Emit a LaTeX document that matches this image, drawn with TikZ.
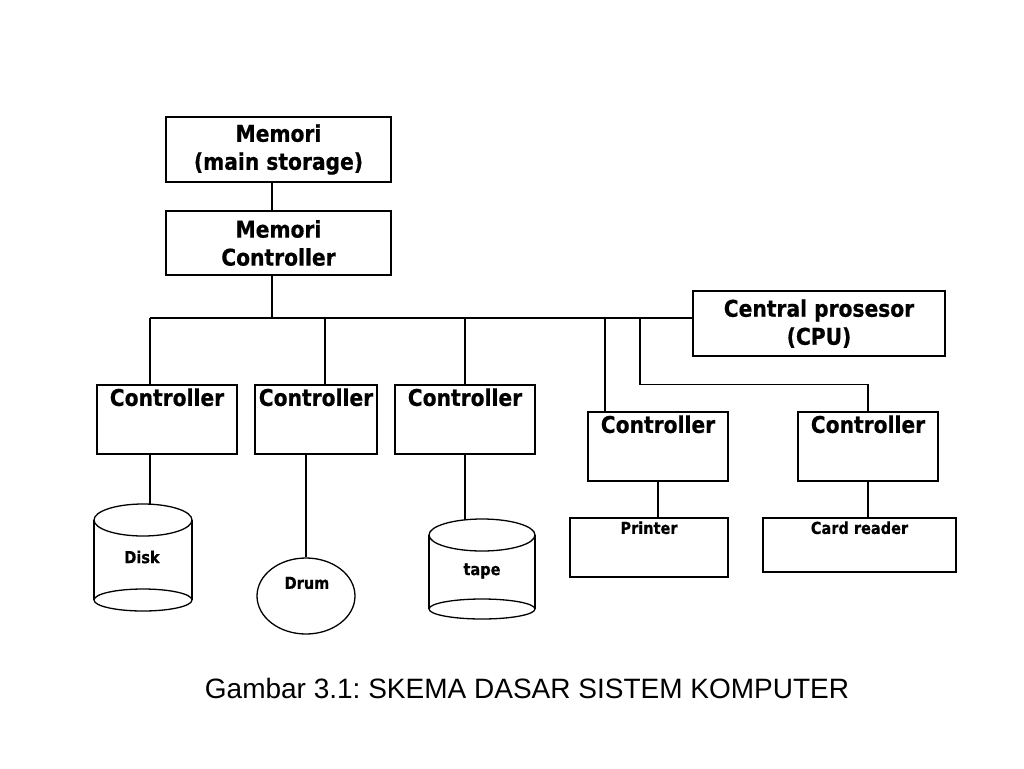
\documentclass[tikz,border=0pt]{standalone}
\usepackage{fontspec}
\newfontfamily\dvs{DejaVu Sans}[FakeStretch=0.88, FakeBold=0.6]
\newfontfamily\capfont{Liberation Sans}
\usetikzlibrary{calc,shapes.geometric}
\frenchspacing
\tikzset{
  box/.style={draw, line width=1.6pt, rectangle, inner sep=0pt},
  conn/.style={line width=1.3pt},
  big/.style={font=\dvs\bfseries\fontsize{23}{28}\selectfont, align=center},
  small/.style={font=\dvs\bfseries\fontsize{16.5}{18}\selectfont},
  ctl/.style={box, minimum width=140pt, minimum height=69pt,
    label={[big, anchor=north, inner sep=4pt]north:Controller}},
}
\begin{document}
\begin{tikzpicture}[x=1pt,y=-1pt]
\useasboundingbox (0,0) rectangle (1024,768);
% top boxes
\node[box, big, minimum width=225pt, minimum height=65pt] (mem) at (278.5,149.5) {Memori\\(main storage)};
\node[box, big, minimum width=225pt, minimum height=64pt] (mc) at (278.5,243) {Memori\\Controller};
\node[box, big, minimum width=252pt, minimum height=65pt] (cpu) at (819,323.5) {Central prosesor\\(CPU)};
% controllers
\node[ctl] (c1) at (167,419.5) {};
\node[ctl, minimum width=122pt] (c2) at (316,419.5) {};
\node[ctl] (c3) at (465,419.5) {};
\node[ctl] (c4) at (658,446.5) {};
\node[ctl] (c5) at (868,446.5) {};
% bus taps
\coordinate (t1) at (150,318);
\coordinate (t2) at (325,318);
\coordinate (t3) at (465,318);
\coordinate (t4) at (605,318);
\coordinate (t5) at (640,318);
\coordinate (tm) at (272,318);
% connectors top
\draw[conn] ([xshift=-6.5pt]mem.south) -- ([xshift=-6.5pt]mc.north);
\draw[conn] (tm |- mc.south) -- (tm);
\draw[conn] (t1) -- (t1 -| cpu.west);
\draw[conn] (t1) -- (t1 |- c1.north);
\draw[conn] (t2) -- (t2 |- c2.north);
\draw[conn] (t3) -- (t3 |- c3.north);
\draw[conn] (t4) -- (t4 |- c4.north);
\draw[conn] (t5) -- (t5 |- c1.north) -| (c5.north);
% devices
% Disk
\draw[conn] (94,520) -- (94,600) (192,520) -- (192,600);
\draw[conn] (143,520) ellipse [x radius=49, y radius=16];
\draw[conn] (143,600) ellipse [x radius=49, y radius=11];
\node[small] (disk) at (142,557) {Disk};
\coordinate (disktop) at (150,504.3);
% Drum
\node[draw, conn, ellipse, minimum width=98pt, minimum height=76pt, inner sep=0pt] (drum) at (306,596) {};
\node[small] (drumt) at (307,583) {Drum};
% Tape
\draw[conn] (429,535) -- (429,609) (535,535) -- (535,609);
\draw[conn] (482,535) ellipse [x radius=53, y radius=16];
\draw[conn] (482,609) ellipse [x radius=53, y radius=10];
\node[small] (tape) at (482,571) {tape};
\coordinate (tapetop) at (465,519.8);
% printer, card reader
\node[box, minimum width=158pt, minimum height=59pt,
  label={[small, anchor=north, inner sep=4pt]north:Printer}] (pr) at (649,547.5) {};
\node[box, minimum width=193pt, minimum height=54pt,
  label={[small, anchor=north, inner sep=4pt]north:Card reader}] (cr) at (859.5,545) {};
% connectors bottom
\draw[conn] (c1.south -| disktop) -- (disktop);
\draw[conn] (c2.south -| drum.north) -- (drum.north);
\draw[conn] (c3.south -| tapetop) -- (tapetop);
\draw[conn] (c4.south) -- (c4.south |- pr.north);
\draw[conn] (c5.south) -- (c5.south |- cr.north);
% caption
\node[font=\capfont\fontsize{28}{32}\selectfont] (cap) at (527,688) {Gambar 3.1: SKEMA DASAR SISTEM KOMPUTER};
\end{tikzpicture}
\end{document}
